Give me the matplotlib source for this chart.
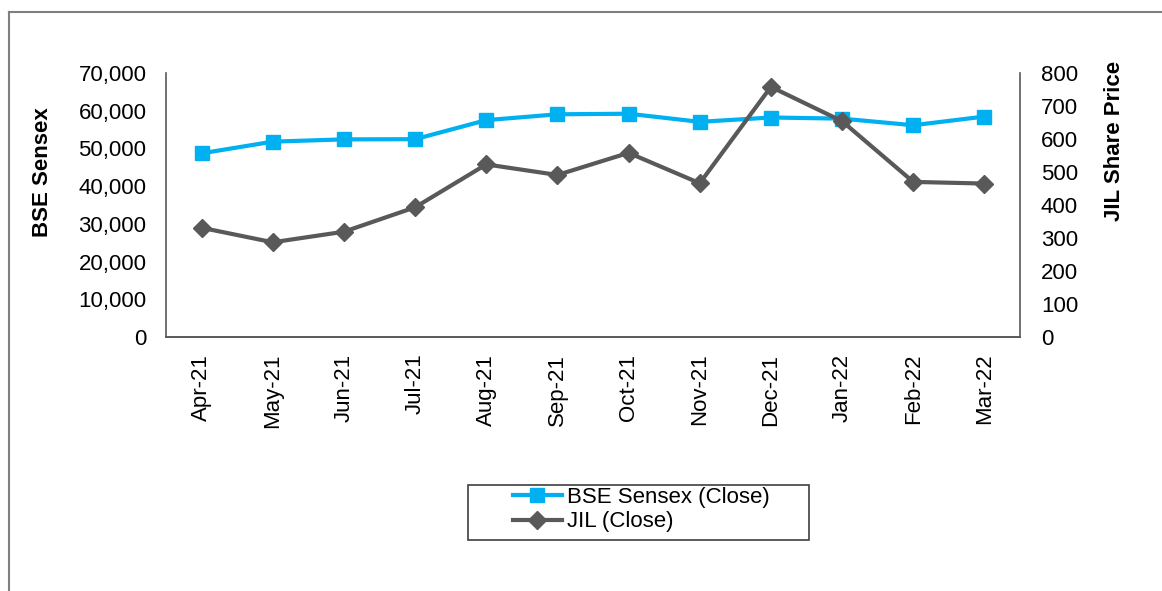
import matplotlib.pyplot as plt
from matplotlib.lines import Line2D
from matplotlib.patches import Rectangle
from matplotlib.ticker import FuncFormatter

plt.rcParams['font.family'] = ['Liberation Sans', 'DejaVu Sans']

months = ["Apr-21", "May-21", "Jun-21", "Jul-21", "Aug-21", "Sep-21",
          "Oct-21", "Nov-21", "Dec-21", "Jan-22", "Feb-22", "Mar-22"]
bse_close = [48700, 51800, 52400, 52450, 57500, 59050,
             59200, 57050, 58200, 57900, 56150, 58450]
jil_close = [331, 287, 319, 393, 523, 491, 558, 466, 758, 654, 470, 465]

W, H = 1162, 591
fig = plt.figure(figsize=(W / 100, H / 100), dpi=100)
ax = fig.add_axes([166 / W, 1 - 337 / H, 854 / W, 264 / H])
ax2 = ax.twinx()

x = range(len(months))
l1, = ax.plot(x, bse_close, color='#00B0F0', linewidth=3, marker='s',
              markersize=10, label="BSE Sensex (Close)")
l2, = ax2.plot(x, jil_close, color='#595959', linewidth=3, marker='D',
               markersize=9, label="JIL (Close)")

ax.set_xlim(-0.5, len(months) - 0.5)
ax.set_ylim(0, 70000)
ax2.set_ylim(0, 800)
ax.set_yticks(range(0, 70001, 10000))
ax2.set_yticks(range(0, 801, 100))
ax.yaxis.set_major_formatter(FuncFormatter(lambda v, p: f"{int(v):,}"))

fs = 16
ax.set_xticks(list(x))
ax.set_xticklabels(months, rotation=90, fontsize=fs)
ax.tick_params(axis='x', length=0, pad=12)
ax.tick_params(axis='y', length=0, labelsize=fs, pad=14)
ax2.tick_params(axis='y', length=0, labelsize=fs, pad=15)

for a in (ax, ax2):
    a.spines['top'].set_visible(False)
    for s in ('left', 'right', 'bottom'):
        a.spines[s].set_color('#595959')
        a.spines[s].set_linewidth(1.2)
ax.spines['right'].set_visible(False)
ax2.spines['left'].set_visible(False)

ax.set_ylabel("BSE Sensex", fontsize=fs, fontweight='bold')
ax2.set_ylabel("JIL Share Price", fontsize=fs, fontweight='bold')
ax.yaxis.set_label_coords((53 - 166) / 854, (337 - 172) / 264)
ax2.yaxis.set_label_coords((1104 - 166) / 854, (337 - 141) / 264)

# legend box drawn separately so its width matches the reference
fig.add_artist(Rectangle((468 / W, 1 - 540 / H), 341 / W, 55 / H,
                         transform=fig.transFigure, fill=False,
                         edgecolor='#404040', linewidth=1.2))
fig.legend(handles=[l1, l2], loc='upper left',
           bbox_to_anchor=(513 / W, 1 - 487 / H), fontsize=fs,
           frameon=False, handlelength=2.2, borderpad=0, labelspacing=0.15,
           handletextpad=0.25, borderaxespad=0)

# outer chart frame (right and bottom edges are cut off in the reference)
fig.add_artist(Line2D([9 / W, 1.0], [1 - 12 / H, 1 - 12 / H],
                      color='#7f7f7f', linewidth=1.5))
fig.add_artist(Line2D([9 / W, 9 / W], [0.0, 1 - 12 / H],
                      color='#7f7f7f', linewidth=1.5))

fig.savefig("out.png", dpi=100)
